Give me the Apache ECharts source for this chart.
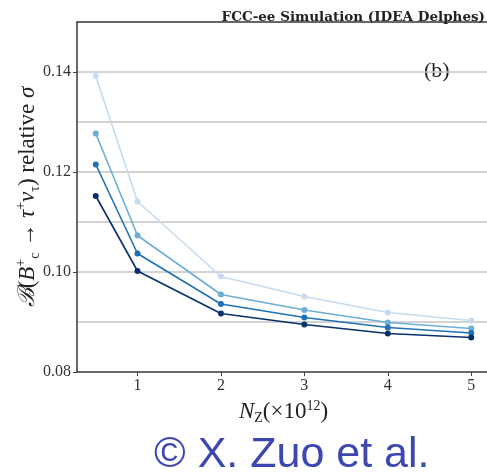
<!DOCTYPE html>
<html>
<head>
<meta charset="utf-8">
<script src="https://cdn.jsdelivr.net/npm/echarts@6/dist/echarts.min.js"></script>
<style>
  html, body { margin: 0; padding: 0; background: #fff; }
  #chart { width: 487px; height: 476px; }
</style>
</head>
<body>
<div id="chart"></div>
<script>
// Number of Z bosons (x 10^12)
const nZ = [0.5, 1, 2, 3, 4, 5];

// Relative uncertainty on B(Bc+ -> tau+ nu) for four scenarios (light to dark)
const sigmaA = [0.1392, 0.1141, 0.0991, 0.0951, 0.0919, 0.0903];
const sigmaB = [0.1277, 0.1073, 0.0955, 0.0924, 0.0899, 0.0887];
const sigmaC = [0.1215, 0.1037, 0.0936, 0.0909, 0.0889, 0.0878];
const sigmaD = [0.1152, 0.1002, 0.0917, 0.0895, 0.0877, 0.0869];

const seriesList = [sigmaA, sigmaB, sigmaC, sigmaD];
const seriesColors = ['#c6dbef', '#6baed6', '#2171b5', '#08306b'];

const xTicks = [1, 2, 3, 4, 5];
const yTickLabels = [0.08, 0.10, 0.12, 0.14];

const serif = '"Liberation Serif", "DejaVu Serif", serif';
const chart = echarts.init(document.getElementById('chart'), null, { renderer: 'canvas' });

const supStyle = { fontFamily: serif, fontSize: 14, lineHeight: 12, verticalAlign: 'top', color: '#222' };
const subStyle = { fontFamily: serif, fontSize: 14, lineHeight: 12, verticalAlign: 'bottom', color: '#222' };

chart.setOption({
  animation: false,
  backgroundColor: '#fff',
  grid: { left: 77, top: 22, right: -3, bottom: 104, containLabel: false, outerBoundsMode: 'none' },
  title: {
    text: 'FCC-ee Simulation (IDEA Delphes)',
    right: -3,
    top: 5,
    textStyle: { fontFamily: '"DejaVu Serif", serif', fontWeight: 'bold', fontSize: 13.5, color: '#222' }
  },
  graphic: [
    {
      type: 'text', left: 424, top: 60,
      style: { text: '(b)', fontFamily: serif, fontSize: 22, fill: '#222' }
    },
    {
      type: 'text', left: 154, top: 434,
      style: { text: '\u00A9 X. Zuo et al.', fontFamily: '"Liberation Sans", Arial, sans-serif', fontSize: 43, fill: '#3d47b0' }
    }
  ],
  xAxis: [
    {
      type: 'value',
      min: 0.275,
      max: 5.225,
      position: 'bottom',
      splitLine: { show: false },
      axisLine: { show: true, onZero: false, lineStyle: { color: '#444', width: 1.6 } },
      axisTick: { show: true, customValues: xTicks, length: 4, inside: false, lineStyle: { color: '#444', width: 1 } },
      axisLabel: {
        customValues: xTicks,
        margin: 6,
        fontFamily: serif, fontSize: 16, color: '#333',
        formatter: v => String(v)
      },
      name: '{i|N}{sub|Z}{n|(×10}{sup|12}{n|)}',
      nameLocation: 'middle',
      nameGap: 22,
      nameTextStyle: {
        rich: {
          i: { fontFamily: serif, fontStyle: 'italic', fontSize: 23, lineHeight: 26, color: '#222' },
          n: { fontFamily: serif, fontSize: 23, lineHeight: 26, color: '#222' },
          sub: subStyle,
          sup: supStyle
        }
      }
    },
    {
      type: 'value',
      min: 0.275,
      max: 5.225,
      position: 'top',
      splitLine: { show: false },
      axisLine: { show: true, onZero: false, lineStyle: { color: '#444', width: 1.6 } },
      axisTick: { show: false },
      axisLabel: { show: false }
    }
  ],
  yAxis: [
    {
      type: 'value',
      min: 0.08,
      max: 0.15,
      interval: 0.01,
      axisLine: { show: true, onZero: false, lineStyle: { color: '#444', width: 1.6 } },
      axisTick: { show: true, customValues: yTickLabels, length: 4, lineStyle: { color: '#444', width: 1 } },
      axisLabel: {
        customValues: yTickLabels,
        margin: 6,
        fontFamily: serif, fontSize: 16, color: '#333',
        formatter: v => v.toFixed(2)
      },
      splitLine: { show: false },
      name: '{s|ℬ}{n|(}{i|B}{sup|+}{sub|c}{n| → }{i|τ}{sup|+}{i|ν}{sub|τ}{n|) relative }{i|σ}',
      nameLocation: 'middle',
      nameRotate: 90,
      nameGap: 35,
      nameMoveOverlap: false,
      nameTextStyle: {
        rich: {
          s: { fontFamily: '"DejaVu Serif", serif', fontStyle: 'italic', fontSize: 23, lineHeight: 28, color: '#222' },
          i: { fontFamily: serif, fontStyle: 'italic', fontSize: 23, lineHeight: 28, color: '#222' },
          n: { fontFamily: serif, fontSize: 23, lineHeight: 28, color: '#222' },
          sub: subStyle,
          sup: supStyle
        }
      }
    },
    {
      // horizontal reference lines every 0.01
      type: 'value',
      min: 0.08,
      max: 0.15,
      interval: 0.01,
      position: 'left',
      axisLine: { show: false },
      axisTick: { show: false },
      axisLabel: { show: false },
      splitLine: { show: true, lineStyle: { color: '#c4c4c4', width: 1.6 } }
    }
  ],
  series: seriesList.map((vals, k) => ({
    type: 'line',
    xAxisIndex: 0,
    yAxisIndex: 0,
    data: nZ.map((x, i) => [x, vals[i]]),
    symbol: 'circle',
    symbolSize: 6,
    lineStyle: { color: seriesColors[k], width: 1.6 },
    itemStyle: { color: seriesColors[k] },
    z: 3 + k
  }))
});
</script>
</body>
</html>
